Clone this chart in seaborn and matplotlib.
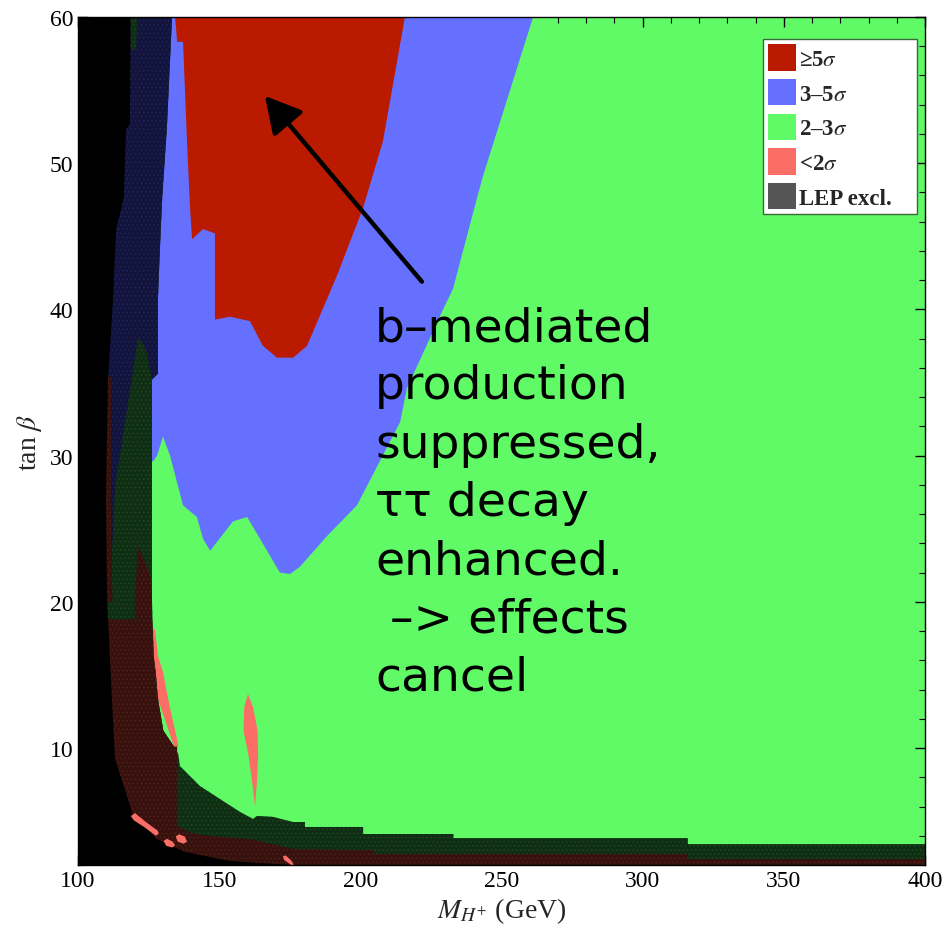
import numpy as np
import pandas as pd
import matplotlib
matplotlib.use("Agg")
import matplotlib.pyplot as plt
from matplotlib.patches import Patch
from matplotlib.ticker import MultipleLocator
import seaborn as sns

# ---------------------------------------------------------------
# Region boundaries in the (M_H+ [GeV], tan beta) plane
# ---------------------------------------------------------------
# >= 5 sigma discovery region
red_x = [134.4, 135.1, 137.2, 138.6, 139.7, 140.4, 144.3, 148.5, 148.5, 153.8, 160.9,
         165.5, 170.5, 176.2, 181.1, 191.7, 200.9, 208.0, 215.8]
red_y = [60.0, 58.3, 58.3, 51.5, 46.9, 44.8, 45.5, 45.2, 39.3, 39.5, 39.2,
         37.5, 36.7, 36.7, 37.5, 42.3, 46.9, 51.5, 60.0]

# 3-5 sigma region (outer edge, clockwise from top right)
blue_x = [120.0, 261.2, 243.4, 241.3, 232.8, 229.3, 216.5, 214.1, 198.8, 188.2, 178.6,
          175.1, 171.5, 164.5, 159.9, 154.9, 146.8, 144.3, 142.1, 137.2, 132.6,
          130.1, 128.0, 126.6, 120.0]
blue_y = [60.0, 60.0, 49.1, 47.6, 41.4, 40.0, 34.6, 32.3, 26.6, 24.5, 22.4,
          21.9, 22.0, 24.3, 25.8, 25.5, 23.5, 24.3, 25.8, 26.6, 30.0,
          31.3, 30.0, 29.6, 29.6]

# < 2 sigma islands
sal_drop_x = [160.2, 162.0, 163.6, 163.8, 163.3, 162.7, 161.8, 160.4, 158.6, 158.9]
sal_drop_y = [13.7, 12.8, 11.2, 9.5, 7.5, 6.0, 7.5, 9.5, 11.2, 12.8]
sal_strip_x = [125.5, 127.3, 128.3, 130.1, 132.6, 135.1, 135.5, 134.0, 125.5]
sal_strip_y = [18.1, 18.1, 16.3, 15.2, 12.7, 10.6, 10.1, 10.1, 15.0]
blob1_x = [118.7, 120.2, 124.0, 128.2, 128.6, 127.6, 123.8, 119.8]
blob1_y = [5.35, 5.55, 4.95, 4.35, 4.15, 4.00, 4.55, 5.05]
blob2_x = [130.3, 131.5, 133.5, 134.4, 133.5, 131.3]
blob2_y = [3.65, 3.80, 3.60, 3.35, 3.20, 3.30]
blob3_x = [134.6, 135.8, 137.8, 138.6, 137.4, 135.3]
blob3_y = [3.95, 4.10, 3.95, 3.60, 3.45, 3.60]
blob4_x = [172.6, 173.6, 175.6, 176.4, 175.5, 173.0]
blob4_y = [2.62, 2.65, 2.30, 2.00, 2.00, 2.35]

# LEP exclusion edge, from the top of the plot down to the right edge
lep_x = [133.3, 132.6, 131.5, 129.8, 129.0, 128.3, 128.3, 126.2, 126.2, 126.5, 126.8,
         127.5, 128.3, 130.2, 134.0, 135.5, 136.1, 143.2, 150.3, 157.4, 162.0, 163.4,
         169.1, 176.2, 180.4, 180.4, 201.0, 201.0, 233.0, 233.0, 316.0, 316.0, 400.0]
lep_y = [60.0, 57.1, 52.5, 47.6, 44.1, 40.7, 35.6, 35.2, 20.2, 18.1, 16.3,
         15.2, 13.4, 11.2, 10.1, 9.6, 8.77, 7.40, 6.51, 5.63, 5.15, 5.36,
         5.29, 4.94, 4.94, 4.60, 4.60, 4.12, 4.12, 3.84, 3.84, 3.43, 3.43]

# inside the LEP exclusion: 3-5 sigma part (upper left strip)
navy_tail_x = [124.1, 121.3, 113.1, 111.3, 100.0]
navy_tail_y = [37.3, 38.1, 27.9, 20.2, 20.2]
# inside the LEP exclusion: < 2 sigma parts
dkred_strip_x = [104.0, 111.8, 111.6, 112.2, 104.0]
dkred_strip_y = [35.4, 35.4, 27.0, 20.0, 20.0]
dkred_wedge_x = [121.3, 125.5, 126.2, 126.2, 120.2, 120.2]
dkred_wedge_y = [23.8, 21.9, 20.2, 18.8, 18.8, 20.2]
dkred_low_x = [104.0, 126.2, 126.5, 126.8, 127.5, 128.3, 130.2, 134.0, 135.1, 135.1,
               140.0, 146.8, 161.0, 176.2, 205.0, 205.0, 316.0, 316.0, 400.0, 400.0, 104.0]
dkred_low_y = [18.8, 18.8, 18.1, 16.3, 15.2, 13.4, 11.2, 10.1, 10.1, 4.67,
               4.20, 3.98, 3.77, 3.09, 3.00, 2.75, 2.75, 2.41, 2.41, 2.00, 2.00]
# thin 2-3 sigma streaks inside the upper LEP strip
dkgreen_streak_x = [118.6, 121.0, 120.6, 118.6, 116.9, 118.6, 118.3, 116.7]
dkgreen_streak_y = [60.0, 60.0, 57.8, 57.8, 56.6, 56.6, 53.5, 53.5]
# unphysical / not scanned region
black_x = [100.0, 118.6, 118.4, 117.0, 116.2, 113.5, 112.4, 110.6, 109.9, 110.3, 112.0,
           113.1, 117.7, 119.5, 125.5, 128.0, 137.9, 153.9, 175.1, 100.0]
black_y = [60.0, 60.0, 52.7, 52.3, 47.6, 45.5, 40.7, 35.2, 27.0, 20.2, 13.4,
           9.25, 6.51, 5.36, 4.26, 3.77, 2.89, 2.27, 2.00, 2.00]

legend_labels = [r"≥5$\sigma$", r"3–5$\sigma$", r"2–3$\sigma$", r"<2$\sigma$", "LEP excl."]
x_ticks = [100, 150, 200, 250, 300, 350, 400]
y_ticks = [10, 20, 30, 40, 50, 60]

note = "b–mediated\nproduction\nsuppressed,\nττ decay\nenhanced.\n –> effects\ncancel"

# ---------------------------------------------------------------
C_RED, C_BLUE, C_GREEN, C_SAL, C_LEP = "#BA1A00", "#6670FF", "#60FA66", "#FA6E66", "#555555"
C_NAVY, C_DKGREEN, C_DKRED = "#12143C", "#0F2E14", "#36110D"

sns.set_theme(style="ticks")
plt.rcParams["font.family"] = ["Liberation Serif", "DejaVu Serif"]
plt.rcParams["mathtext.fontset"] = "stix"
plt.rcParams["hatch.linewidth"] = 0.6

fig = plt.figure(figsize=(9.5, 9.37), dpi=100)
ax = fig.add_axes([78 / 950, 1 - 866 / 937, 847 / 950, 848 / 937])
ax.set_xlim(100, 400)
ax.set_ylim(2, 60)
ax.set_facecolor(C_GREEN)


def region(xs, ys, color, hatch_color=None, z=1):
    if hatch_color is None:
        ax.fill(xs, ys, facecolor=color, edgecolor="none", linewidth=0, zorder=z)
    else:
        ax.fill(xs, ys, facecolor=color, edgecolor=hatch_color, linewidth=0,
                hatch="....", zorder=z)


region(blue_x, blue_y, C_BLUE)
region(red_x, red_y, C_RED)
region(sal_drop_x, sal_drop_y, C_SAL)
region(sal_strip_x, sal_strip_y, C_SAL)

# LEP exclusion, shaded by the underlying significance
lep_poly_x = lep_x + [400.0, 100.0, 100.0]
lep_poly_y = lep_y + [2.0, 2.0, 60.0]
region(lep_poly_x, lep_poly_y, C_DKGREEN, "#1B4A22", z=2)
n_top = 8
region([100.0] + lep_x[:n_top] + navy_tail_x, [60.0] + lep_y[:n_top] + navy_tail_y,
       C_NAVY, "#1F2460", z=2)
region(dkgreen_streak_x[:4], dkgreen_streak_y[:4], C_DKGREEN, "#1B4A22", z=2)
region(dkgreen_streak_x[4:], dkgreen_streak_y[4:], C_DKGREEN, "#1B4A22", z=2)
region(dkred_strip_x, dkred_strip_y, C_DKRED, "#55201A", z=2)
region(dkred_wedge_x, dkred_wedge_y, C_DKRED, "#55201A", z=2)
region(dkred_low_x, dkred_low_y, C_DKRED, "#55201A", z=2)
region(black_x, black_y, "black", z=3)
for bx, by in [(blob1_x, blob1_y), (blob2_x, blob2_y), (blob3_x, blob3_y), (blob4_x, blob4_y)]:
    region(bx, by, C_SAL, z=4)

# annotation
ax.annotate("", xy=(166.2, 54.6), xytext=(221.8, 41.9),
            arrowprops=dict(arrowstyle="-|>,head_length=0.55,head_width=0.3", color="black",
                            lw=3.2, mutation_scale=40, shrinkA=0, shrinkB=0), zorder=6)
ax.text(205.2, 40.3, note, fontsize=34, family="DejaVu Sans", color="black",
        ha="left", va="top", linespacing=1.38, zorder=6)

# axes styling
ax.set_xticks(x_ticks)
ax.set_yticks(y_ticks)
ax.xaxis.set_minor_locator(MultipleLocator(10))
ax.yaxis.set_minor_locator(MultipleLocator(2))
ax.tick_params(which="both", direction="in", top=True, right=True, colors="black",
               labelsize=17, zorder=7)
ax.tick_params(which="major", length=7, width=1)
ax.tick_params(which="minor", length=4, width=0.8)
for s in ax.spines.values():
    s.set_color("black")
    s.set_linewidth(1.0)
    s.set_zorder(8)
ax.set_xlabel(r"$M_{H^{+}}$ (GeV)", fontsize=20, labelpad=3)
ax.set_ylabel(r"tan $\beta$", fontsize=20, labelpad=4)

# legend box spans a fixed width in the upper right corner
leg_x0, leg_w = (763 - 78) / 847, (917 - 763) / 847
handles = [Patch(facecolor=c, edgecolor="none") for c in [C_RED, C_BLUE, C_GREEN, C_SAL, C_LEP]]
leg = ax.legend(handles, legend_labels, loc="upper left",
                bbox_to_anchor=(leg_x0, 0.974 - 0.2, leg_w, 0.2), mode="expand",
                borderaxespad=0, frameon=True, fancybox=False, framealpha=1,
                prop={"family": "Liberation Serif", "weight": "bold", "size": 16.5},
                handlelength=1.22, handleheight=1.4, handletextpad=0.15,
                labelspacing=0.36, borderpad=0.22)
leg.get_frame().set_edgecolor("#3a6a3a")
leg.get_frame().set_linewidth(1.0)
leg.set_zorder(9)

fig.savefig("out.png", dpi=100)
